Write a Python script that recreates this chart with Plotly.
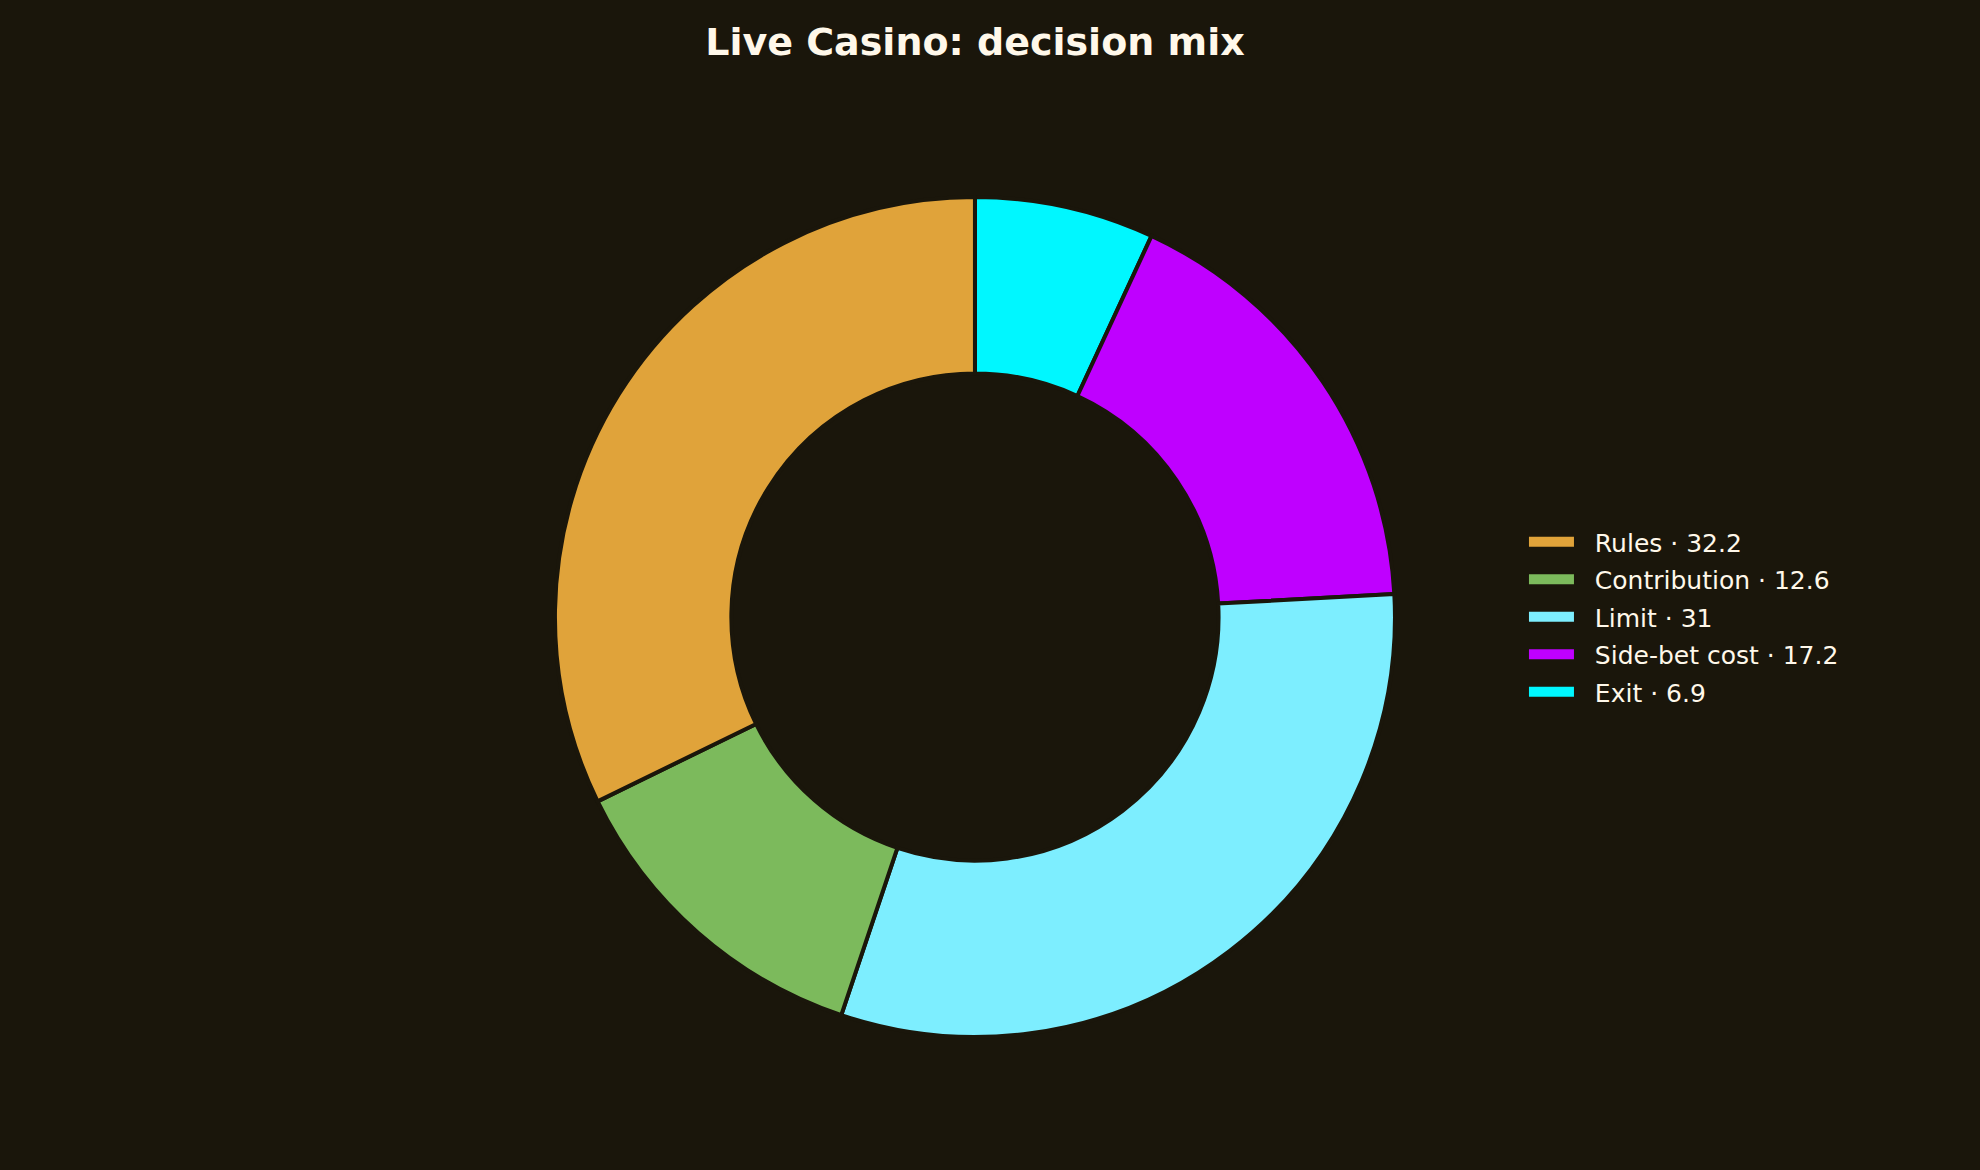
import plotly.graph_objects as go

categories = ["Rules", "Contribution", "Limit", "Side-bet cost", "Exit"]
values = [32.2, 12.6, 31, 17.2, 6.9]
colors = ["#E0A33A", "#7CBA5C", "#7DEEFF", "#BF00FF", "#00F7FF"]

BG = "#1A160B"
TXT = "#FFF8EA"

labels = [f"{c} · {v:g}" for c, v in zip(categories, values)]

# slices run counterclockwise from 12 o'clock in the reference:
# draw clockwise with the order reversed
fig = go.Figure(
    go.Pie(
        labels=labels[::-1],
        values=values[::-1],
        hole=0.58,
        sort=False,
        direction="clockwise",
        rotation=0,
        marker=dict(colors=colors[::-1], line=dict(color=BG, width=4)),
        textinfo="none",
        showlegend=False,
        domain=dict(x=[0.0, 0.9848], y=[0, 1]),
    )
)

# legend entries as wide colour bars (one per slice)
for i, (lab, col) in enumerate(zip(labels, colors)):
    fig.add_trace(
        go.Scatter(
            x=[None], y=[None], mode="lines", name="\u00a0\u00a0" + lab,
            legendgroup=f"g{i}",
            line=dict(color=col, width=12), hoverinfo="skip",
        )
    )

fig.update_layout(
    width=1980,
    height=1170,
    paper_bgcolor=BG,
    plot_bgcolor=BG,
    margin=dict(l=0, r=0, t=197, b=133),
    xaxis=dict(visible=False),
    yaxis=dict(visible=False),
    title=dict(
        text="<b>Live Casino: decision mix</b>",
        x=0.4924,
        xanchor="center",
        y=1 - 42 / 1170,
        yanchor="middle",
        yref="container",
        font=dict(family="DejaVu Sans", size=38, color=TXT),
    ),
    legend=dict(
        x=0.7717 - 4 / 1980,
        xanchor="left",
        y=0.5,
        yanchor="middle",
        itemwidth=45,
        tracegroupgap=2,
        font=dict(family="DejaVu Sans", size=25, color=TXT),
        bgcolor="rgba(0,0,0,0)",
    ),
)

fig.write_html(
    "out.html",
    config={"displayModeBar": False},
    post_script="document.body.style.margin='0';document.body.style.background='" + BG + "';",
)
